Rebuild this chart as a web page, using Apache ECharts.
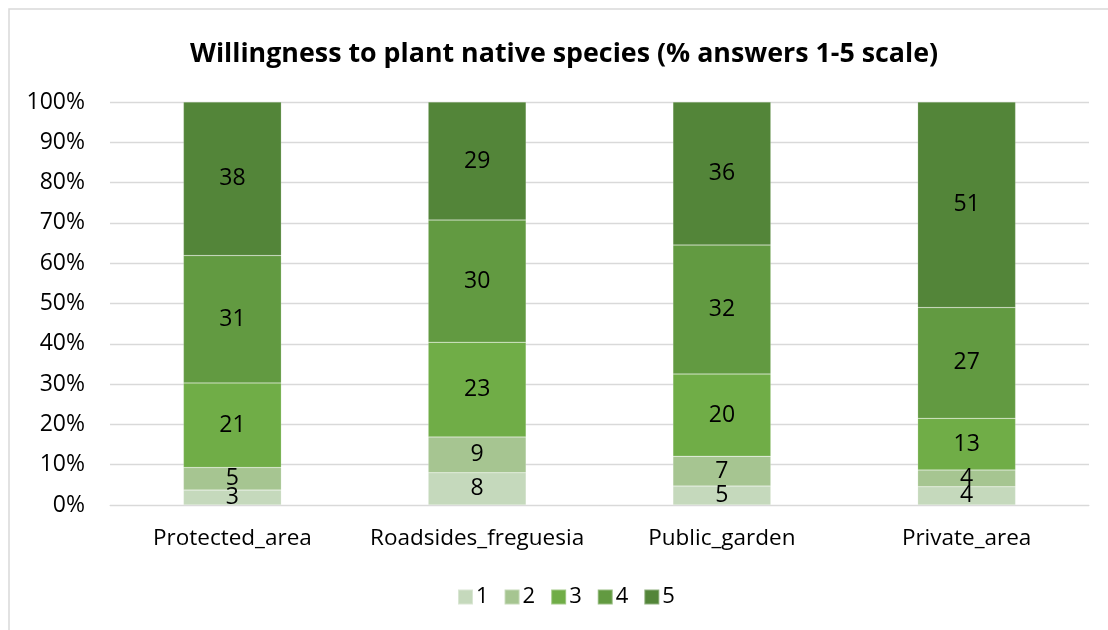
<!DOCTYPE html>
<html>
<head>
<meta charset="utf-8">
<script src="https://cdn.jsdelivr.net/npm/echarts@6/dist/echarts.min.js"></script>
<style>
  html, body { margin: 0; padding: 0; background: #fff; }
  #chart { width: 1108px; height: 630px; }
</style>
</head>
<body>
<div id="chart"></div>
<script>
// categories and answer levels
var categories = ['Protected_area', 'Roadsides_freguesia', 'Public_garden', 'Private_area'];
var levels = ['1', '2', '3', '4', '5'];

// segment heights (% of answers)
var share1 = [3.7, 8.0, 4.7, 4.5];
var share2 = [5.6, 8.9, 7.4, 4.2];
var share3 = [21.0, 23.5, 20.4, 12.8];
var share4 = [31.6, 30.3, 32.0, 27.5];
var share5 = [38.1, 29.3, 35.5, 51.0];

// numbers printed on the segments
var label1 = [3, 8, 5, 4];
var label2 = [5, 9, 7, 4];
var label3 = [21, 23, 20, 13];
var label4 = [31, 30, 32, 27];
var label5 = [38, 29, 36, 51];

var yTicks = [0, 10, 20, 30, 40, 50, 60, 70, 80, 90, 100];

var colors = ['#C5D9BC', '#A6C591', '#70AD47', '#629A41', '#538539'];
var shares = [share1, share2, share3, share4, share5];
var labels = [label1, label2, label3, label4, label5];
var font = 'Open Sans';

var chart = echarts.init(document.getElementById('chart'));

var series = levels.map(function (name, i) {
  return {
    name: name,
    type: 'bar',
    stack: 'total',
    barWidth: '40%',
    data: shares[i],
    itemStyle: { color: colors[i], borderColor: 'rgba(255,255,255,0.35)', borderWidth: 0.5 },
    label: {
      show: true,
      position: 'inside',
      color: '#000',
      fontFamily: font,
      fontSize: 23,
      formatter: function (p) { return labels[i][p.dataIndex]; }
    }
  };
});

var option = {
  backgroundColor: '#fff',
  animation: false,
  color: colors,
  title: {
    text: 'Willingness to plant native species (% answers 1-5 scale)',
    left: 185,
    top: 36,
    textStyle: { fontFamily: font, fontSize: 26.8, fontWeight: 'bold', color: '#000' }
  },
  legend: {
    data: levels,
    bottom: 17,
    left: 452,
    itemWidth: 15,
    itemHeight: 15,
    itemGap: 15,
    icon: 'rect',
    textStyle: { fontFamily: font, fontSize: 22, color: '#000', padding: [0, 0, 0, -2] }
  },
  grid: { left: 110, right: 19, top: 102, bottom: 125, containLabel: false },
  xAxis: {
    type: 'category',
    data: categories,
    axisLine: { lineStyle: { color: '#d9d9d9', width: 1 } },
    axisTick: { show: false },
    axisLabel: { interval: 0, fontFamily: font, fontSize: 22.5, color: '#000', margin: 22 }
  },
  yAxis: {
    type: 'value',
    min: 0,
    max: 100,
    interval: 10,
    axisLine: { show: false },
    axisTick: { show: false },
    splitLine: { lineStyle: { color: '#d9d9d9', width: 1.3 } },
    axisLabel: {
      fontFamily: font, fontSize: 23, color: '#000', margin: 25,
      formatter: function (v) { return yTicks.indexOf(v) >= 0 ? v + '%' : ''; }
    }
  },
  graphic: [{
    type: 'rect',
    shape: { x: 9, y: 9, width: 1200, height: 700 },
    style: { fill: 'none', stroke: '#d9d9d9', lineWidth: 1.5 },
    silent: true
  }],
  series: series
};

chart.setOption(option);
</script>
</body>
</html>
